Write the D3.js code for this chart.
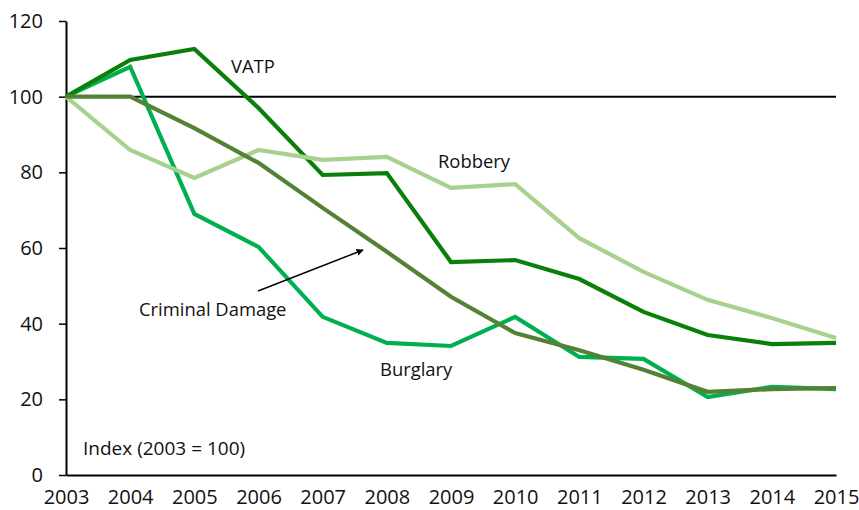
<!DOCTYPE html>
<html>
<head>
<meta charset="utf-8">
<script src="https://cdn.jsdelivr.net/npm/d3@7"></script>
<style>
  html, body { margin: 0; padding: 0; background: #fff; }
  svg { display: block; font-family: "Open Sans", "Noto Sans", sans-serif; }
</style>
</head>
<body>
<svg id="chart" width="859" height="510"></svg>
<script>
const years = [2003, 2004, 2005, 2006, 2007, 2008, 2009, 2010, 2011, 2012, 2013, 2014, 2015];
const yTicks = [0, 20, 40, 60, 80, 100, 120];

const vatp           = [100, 109.7, 112.6, 97.0, 79.3, 79.8, 56.3, 56.8, 51.8, 43.1, 37.0, 34.6, 34.9];
const robbery        = [100, 85.9, 78.5, 85.9, 83.3, 84.1, 75.9, 76.9, 62.6, 53.7, 46.3, 41.5, 36.2];
const burglary       = [100, 107.9, 69.0, 60.3, 41.8, 34.9, 34.1, 41.8, 31.2, 30.7, 20.6, 23.3, 22.7];
const criminalDamage = [100, 100, 91.7, 82.5, 70.6, 59.0, 47.1, 37.5, 33.0, 27.8, 22.0, 22.7, 23.0];

const seriesNames  = ["Burglary", "VATP", "Robbery", "Criminal Damage"];
const seriesValues = [burglary, vatp, robbery, criminalDamage];
const seriesColors = ["#00b050", "#0a7f0a", "#a9d18e", "#548235"];

const svg = d3.select("#chart");
const x = d3.scaleLinear().domain([2003, 2015]).range([66, 836]);
const y = d3.scaleLinear().domain([0, 120]).range([475, 21]);

// Y axis
const yAxis = svg.append("g")
  .attr("transform", "translate(66,0)")
  .call(d3.axisLeft(y).tickValues(yTicks).tickSize(7).tickSizeOuter(0).tickPadding(16));
yAxis.select(".domain").attr("stroke", "#000").attr("stroke-width", 2);
yAxis.selectAll(".tick line").attr("stroke", "#000").attr("stroke-width", 1.5);
yAxis.selectAll(".tick text").attr("font-size", 20).attr("fill", "#111")
  .attr("font-family", "'Open Sans', 'Noto Sans', sans-serif");

// X axis
const xAxis = svg.append("g")
  .attr("transform", "translate(0,475)")
  .call(d3.axisBottom(x).tickValues(years).tickFormat(d3.format("d")).tickSize(0).tickSizeOuter(0).tickPadding(15));
xAxis.select(".domain").attr("stroke", "#000").attr("stroke-width", 2);
xAxis.selectAll(".tick text").attr("font-size", 20).attr("fill", "#111")
  .attr("font-family", "'Open Sans', 'Noto Sans', sans-serif");

// Reference line at 100
svg.append("line")
  .attr("x1", x(2003)).attr("x2", x(2015))
  .attr("y1", y(100)).attr("y2", y(100))
  .attr("stroke", "#000").attr("stroke-width", 2);

// Lines
const line = d3.line().x((d, i) => x(years[i])).y(d => y(d));
seriesValues.forEach((vals, k) => {
  svg.append("path")
    .datum(vals)
    .attr("d", line)
    .attr("fill", "none")
    .attr("stroke", seriesColors[k])
    .attr("stroke-width", 4.2)
    .attr("stroke-linejoin", "miter");
});

// Labels
const labelStyle = sel => sel.attr("font-size", 18.4).attr("fill", "#111");
svg.append("text").attr("x", 231).attr("y", 73).text("VATP").call(labelStyle);
svg.append("text").attr("x", 438).attr("y", 168).text("Robbery").call(labelStyle);
svg.append("text").attr("x", 139).attr("y", 316).text("Criminal Damage").call(labelStyle);
svg.append("text").attr("x", 380).attr("y", 376).text("Burglary").call(labelStyle);
svg.append("text").attr("x", 83).attr("y", 455).text("Index (2003 = 100)").attr("font-size", 19).attr("fill", "#111");

// Arrow
svg.append("defs").append("marker")
  .attr("id", "arrow").attr("viewBox", "0 0 10 10")
  .attr("refX", 9).attr("refY", 5)
  .attr("markerWidth", 7).attr("markerHeight", 7)
  .attr("markerUnits", "userSpaceOnUse")
  .attr("orient", "auto")
  .append("path").attr("d", "M0,0 L10,5 L0,10 z").attr("fill", "#000");
svg.append("line")
  .attr("x1", 258).attr("y1", 291).attr("x2", 363).attr("y2", 250)
  .attr("stroke", "#000").attr("stroke-width", 1.5)
  .attr("marker-end", "url(#arrow)");
</script>
</body>
</html>
